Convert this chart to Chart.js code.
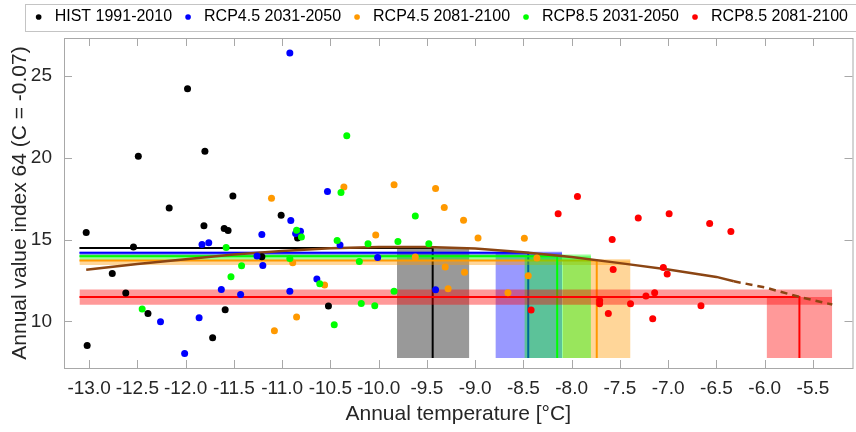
<!DOCTYPE html>
<html>
<head>
<meta charset="utf-8">
<script src="https://cdn.jsdelivr.net/npm/chart.js@4.4.0/dist/chart.umd.min.js"></script>
<style>
  html, body { margin: 0; padding: 0; background: #fff; }
  #wrap { width: 856px; height: 432px; }
</style>
</head>
<body>
<div id="wrap"><canvas id="myChart" width="856" height="432"></canvas></div>
<script>
// Scenario names and colours
const seriesNames = ['HIST 1991-2010', 'RCP4.5 2031-2050', 'RCP4.5 2081-2100', 'RCP8.5 2031-2050', 'RCP8.5 2081-2100'];
const seriesColors = ['#000000', '#0000ff', '#ff9900', '#00ff00', '#ff0000'];
const bandColors = ['rgba(0,0,0,0.4)', 'rgba(0,0,255,0.4)', 'rgba(255,153,0,0.4)', 'rgba(0,255,0,0.4)', 'rgba(255,0,0,0.4)'];

// Yearly points (temperature, value index)
const histX = [-13.03, -13.02, -12.49, -12.54, -12.76, -12.62, -12.39, -11.98, -11.80, -12.17, -11.81, -11.51, -11.60, -11.56, -11.59, -11.72, -11.21, -11.01, -10.84, -10.52];
const histY = [15.43, 8.54, 20.09, 14.55, 12.93, 11.73, 10.49, 24.21, 20.39, 16.93, 15.84, 17.65, 15.67, 15.55, 10.71, 9.00, 13.95, 16.49, 15.09, 10.94];

const rcp45aX = [-11.83, -11.76, -11.63, -11.43, -11.86, -12.26, -12.01, -11.26, -11.21, -11.20, -10.92, -10.91, -10.86, -10.81, -10.53, -10.40, -10.01, -10.64, -10.92, -9.41];
const rcp45aY = [14.70, 14.80, 11.95, 11.65, 10.23, 9.98, 8.05, 13.99, 15.31, 13.41, 26.38, 16.16, 15.37, 15.51, 17.93, 14.66, 13.90, 12.59, 11.85, 11.93];

const rcp45bX = [-11.11, -10.36, -9.84, -9.41, -9.32, -9.12, -10.03, -9.62, -9.31, -9.11, -9.28, -10.89, -10.56, -10.85, -11.08, -8.97, -8.49, -8.36, -8.45, -8.66];
const rcp45bY = [17.52, 18.21, 18.34, 18.11, 16.95, 16.18, 15.27, 13.93, 13.32, 13.01, 12.00, 13.58, 12.22, 10.27, 9.43, 15.10, 15.08, 13.88, 12.79, 11.75];

const rcp85aX = [-11.58, -11.42, -11.53, -12.45, -10.33, -10.39, -9.62, -10.85, -10.80, -10.43, -10.11, -9.80, -9.48, -10.92, -10.20, -10.61, -9.84, -10.18, -10.04, -10.46];
const rcp85aY = [14.51, 13.40, 12.73, 10.76, 21.34, 17.87, 16.43, 15.57, 15.16, 14.94, 14.74, 14.88, 14.74, 13.84, 13.66, 12.30, 11.85, 11.10, 10.96, 9.80];

const rcp85bX = [-7.94, -8.14, -7.31, -7.58, -7.57, -8.42, -7.71, -7.71, -7.62, -7.39, -7.23, -7.14, -7.16, -6.99, -6.57, -6.35, -7.05, -7.01, -6.66];
const rcp85bY = [17.62, 16.57, 16.32, 15.00, 13.17, 10.70, 11.28, 11.08, 10.49, 11.08, 11.55, 11.75, 10.16, 16.57, 15.98, 15.49, 13.29, 12.89, 10.96];

const seriesX = [histX, rcp45aX, rcp45bX, rcp85aX, rcp85bX];
const seriesY = [histY, rcp45aY, rcp45bY, rcp85aY, rcp85bY];

// Scenario means and ranges
const meanTemp = [-9.44, -8.45, -7.74, -8.15, -5.64];
const tempLow = [-9.81, -8.79, -8.09, -8.49, -5.98];
const tempHigh = [-9.06, -8.10, -7.39, -7.80, -5.30];
const meanValue = [14.49, 14.20, 13.72, 13.98, 11.50];
const valueLow = [14.49, 13.98, 13.45, 13.78, 11.02];
const valueHigh = [14.49, 14.26, 13.80, 14.08, 11.95];
const lineStart = -13.1;
const bandFloor = 7.77;

// Fitted curve (solid part, then dashed extrapolation)
const curveX = [-13.03, -12.5, -12.0, -11.5, -11.0, -10.5, -10.0, -9.5, -9.0, -8.5, -8.0, -7.5, -7.0, -6.5, -6.32];
const curveY = [13.15, 13.50, 13.80, 14.08, 14.30, 14.47, 14.55, 14.55, 14.45, 14.22, 13.93, 13.56, 13.17, 12.72, 12.45];
const dashX = [-6.32, -6.0, -5.64, -5.3];
const dashY = [12.45, 12.08, 11.50, 11.03];

// Axis ticks
const xTicks = [-13.0, -12.5, -12.0, -11.5, -11.0, -10.5, -10.0, -9.5, -9.0, -8.5, -8.0, -7.5, -7.0, -6.5, -6.0, -5.5];
const yTicks = [10, 15, 20, 25];
const xMin = -13.26, xMax = -5.09, yMin = 7.16, yMax = 27.3;

const toPoints = (xs, ys) => xs.map((x, i) => ({ x: x, y: ys[i] }));

const datasets = [];

// scatter points, later scenarios on top
seriesNames.forEach((name, i) => {
    datasets.push({
        label: name,
        data: toPoints(seriesX[i], seriesY[i]),
        backgroundColor: seriesColors[i],
        borderColor: seriesColors[i],
        borderWidth: 0,
        pointRadius: 3.5,
        pointHoverRadius: 3.5,
        order: 4 - i
    });
});

datasets.push({
    type: 'line',
    data: toPoints(curveX, curveY),
    borderColor: '#8b4513',
    borderWidth: 2.5,
    pointRadius: 0,
    fill: false,
    order: 10
});
datasets.push({
    type: 'line',
    data: toPoints(dashX, dashY),
    borderColor: '#8b4513',
    borderWidth: 2.5,
    borderDash: [7, 5],
    pointRadius: 0,
    fill: false,
    order: 10
});

// bands and mean lines, one scenario after the other
seriesNames.forEach((name, k) => {
    const base = 100 - 10 * k;
    // horizontal band
    datasets.push({
        type: 'line',
        data: [{ x: lineStart, y: valueHigh[k] }, { x: tempHigh[k], y: valueHigh[k] }],
        borderColor: 'rgba(0,0,0,0)',
        borderWidth: 0,
        pointRadius: 0,
        backgroundColor: bandColors[k],
        fill: { value: valueLow[k] },
        order: base + 5
    });
    // vertical band
    datasets.push({
        type: 'line',
        data: [{ x: tempLow[k], y: meanValue[k] }, { x: tempHigh[k], y: meanValue[k] }],
        borderColor: 'rgba(0,0,0,0)',
        borderWidth: 0,
        pointRadius: 0,
        backgroundColor: bandColors[k],
        fill: { value: bandFloor },
        order: base + 5
    });
    datasets.push({
        type: 'line',
        data: [{ x: lineStart, y: meanValue[k] }, { x: meanTemp[k], y: meanValue[k] }, { x: meanTemp[k], y: bandFloor }],
        borderColor: seriesColors[k],
        borderWidth: 2,
        pointRadius: 0,
        fill: false,
        order: base
    });
});

// frame with inward ticks, plus legend box
const framePlugin = {
    id: 'frame',
    afterDraw(chart) {
        const { ctx, chartArea: a, scales } = chart;
        ctx.save();
        ctx.strokeStyle = '#a8a8a8';
        ctx.lineWidth = 1;
        ctx.strokeRect(a.left + 0.5, a.top + 0.5, a.right - a.left, a.bottom - a.top);
        ctx.beginPath();
        xTicks.forEach(v => {
            const px = Math.round(scales.x.getPixelForValue(v)) + 0.5;
            ctx.moveTo(px, a.bottom); ctx.lineTo(px, a.bottom - 8);
            ctx.moveTo(px, a.top); ctx.lineTo(px, a.top + 8);
        });
        yTicks.forEach(v => {
            const py = Math.round(scales.y.getPixelForValue(v)) + 0.5;
            ctx.moveTo(a.left, py); ctx.lineTo(a.left + 8, py);
            ctx.moveTo(a.right, py); ctx.lineTo(a.right - 8, py);
        });
        ctx.stroke();

        const lg = chart.legend;
        const left = lg.right - lg.lineWidths[0] - 6;
        ctx.strokeStyle = '#c4c4c4';
        ctx.strokeRect(Math.round(left) + 0.5, lg.top + 3.5, chart.width - left + 2, 27);
        ctx.restore();
    }
};

Chart.defaults.font.family = '"Liberation Sans", Arial, sans-serif';
Chart.defaults.color = '#262626';

const ctx = document.getElementById('myChart');
new Chart(ctx, {
    type: 'scatter',
    data: { datasets: datasets },
    options: {
        responsive: false,
        animation: false,
        devicePixelRatio: 1,
        layout: { padding: { top: 1, left: 0, right: 0, bottom: 0 } },
        plugins: {
            legend: {
                position: 'top',
                align: 'end',
                labels: {
                    usePointStyle: true,
                    pointStyle: 'circle',
                    boxWidth: 16,
                    boxHeight: 4,
                    padding: 8,
                    color: '#000000',
                    font: { size: 16 },
                    filter: item => !!item.text,
                    sort: (a, b) => a.datasetIndex - b.datasetIndex
                }
            },
            tooltip: { enabled: false }
        },
        scales: {
            x: {
                type: 'linear',
                position: 'bottom',
                min: xMin,
                max: xMax,
                grid: { display: false, drawTicks: false },
                border: { display: false },
                afterBuildTicks: scale => { scale.ticks = xTicks.map(v => ({ value: v })); },
                afterFit: scale => { scale.height = 64; },
                ticks: {
                    autoSkip: false,
                    maxRotation: 0,
                    padding: 9,
                    font: { size: 19 },
                    callback: value => Number(value).toFixed(1)
                },
                title: {
                    display: true,
                    text: 'Annual temperature [°C]',
                    font: { size: 21 },
                    padding: { top: 0, bottom: 5 }
                }
            },
            xTop: {
                type: 'linear',
                position: 'top',
                min: xMin,
                max: xMax,
                grid: { display: false, drawTicks: false },
                border: { display: false },
                ticks: { display: false },
                afterFit: scale => { scale.height = 3; }
            },
            y: {
                type: 'linear',
                min: yMin,
                max: yMax,
                grid: { display: false, drawTicks: false },
                border: { display: false },
                afterBuildTicks: scale => { scale.ticks = yTicks.map(v => ({ value: v })); },
                afterFit: scale => { scale.width = 64; },
                ticks: {
                    padding: 12,
                    font: { size: 19 },
                    callback: value => String(value)
                },
                title: {
                    display: true,
                    text: 'Annual value index 64 (C = -0.07)',
                    font: { size: 21 },
                    padding: { top: 8, bottom: 0 }
                }
            }
        }
    },
    plugins: [framePlugin]
});
</script>
</body>
</html>
